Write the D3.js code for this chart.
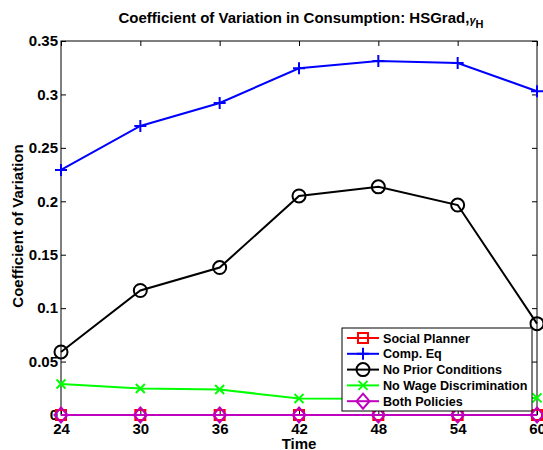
<!DOCTYPE html>
<html>
<head>
<meta charset="utf-8">
<script src="https://cdn.jsdelivr.net/npm/d3@7"></script>
<style>
  html, body { margin: 0; padding: 0; background: #fff; }
  text { font-family: "Liberation Sans", Arial, Helvetica, sans-serif; font-weight: bold; }
</style>
</head>
<body>
<svg id="chart" width="543" height="450"></svg>
<script>
// Age (months) at which consumption dispersion is measured
const times = [24, 30, 36, 42, 48, 54, 60];

// Coefficient of variation per scenario
const socialPlanner = [0, 0, 0, 0, 0, 0, 0];
const compEq = [0.2293, 0.2705, 0.2920, 0.3245, 0.3313, 0.3294, 0.3030];
const noPriorConditions = [0.0590, 0.1165, 0.1380, 0.2050, 0.2135, 0.1965, 0.0855];
const noWageDiscrimination = [0.0290, 0.0248, 0.0238, 0.0155, 0.0152, 0.0150, 0.0160];
const bothPolicies = [0, 0, 0, 0, 0, 0, 0];

const xTicks = [24, 30, 36, 42, 48, 54, 60];
const yTicks = [0, 0.05, 0.1, 0.15, 0.2, 0.25, 0.3, 0.35];
const yTickLabels = ["0", "0.05", "0.1", "0.15", "0.2", "0.25", "0.3", "0.35"];

const series = [
  { name: "Social Planner", values: socialPlanner, color: "#ff0000", marker: "square" },
  { name: "Comp. Eq", values: compEq, color: "#0000ff", marker: "plus" },
  { name: "No Prior Conditions", values: noPriorConditions, color: "#000000", marker: "circle" },
  { name: "No Wage Discrimination", values: noWageDiscrimination, color: "#00ff00", marker: "cross" },
  { name: "Both Policies", values: bothPolicies, color: "#bf00bf", marker: "diamond" }
];

const svg = d3.select("#chart");
const plotLeft = 61, plotRight = 537, plotTop = 41, plotBottom = 415;

const x = d3.scaleLinear().domain([24, 60]).range([plotLeft, plotRight]);
const y = d3.scaleLinear().domain([0, 0.35]).range([plotBottom, plotTop]);

// Plot frame
svg.append("rect")
  .attr("x", plotLeft).attr("y", plotTop)
  .attr("width", plotRight - plotLeft).attr("height", plotBottom - plotTop)
  .attr("fill", "#fff").attr("stroke", "#000").attr("stroke-width", 1);

// Axes with inward ticks (MATLAB style)
const xAxis = d3.axisBottom(x).tickValues(xTicks).tickSize(-5).tickPadding(8)
  .tickFormat(d3.format("d"));
const gx = svg.append("g").attr("transform", `translate(0,${plotBottom})`).call(xAxis);
gx.select(".domain").remove();
gx.selectAll("text").attr("font-size", 15).attr("fill", "#000")
  .style("font-family", "'Liberation Sans', Arial, sans-serif").style("font-weight", "bold");
gx.selectAll("line").attr("stroke", "#000");

const xAxisTop = d3.axisTop(x).tickValues(xTicks).tickSize(-5).tickFormat("");
const gxt = svg.append("g").attr("transform", `translate(0,${plotTop})`).call(xAxisTop);
gxt.select(".domain").remove();

const yAxis = d3.axisLeft(y).tickValues(yTicks).tickSize(-5).tickPadding(3)
  .tickFormat((d, i) => yTickLabels[i]);
const gy = svg.append("g").attr("transform", `translate(${plotLeft},0)`).call(yAxis);
gy.select(".domain").remove();
gy.selectAll("text").attr("font-size", 15).attr("fill", "#000")
  .style("font-family", "'Liberation Sans', Arial, sans-serif").style("font-weight", "bold");
gy.selectAll("line").attr("stroke", "#000");

const yAxisRight = d3.axisRight(y).tickValues(yTicks).tickSize(-5).tickFormat("");
const gyr = svg.append("g").attr("transform", `translate(${plotRight},0)`).call(yAxisRight);
gyr.select(".domain").remove();

// Marker shapes
function drawMarker(g, type, cx, cy, color) {
  if (type === "square") {
    g.append("rect").attr("x", cx - 5).attr("y", cy - 5).attr("width", 10).attr("height", 10)
      .attr("fill", "none").attr("stroke", color).attr("stroke-width", 2);
  } else if (type === "plus") {
    g.append("path").attr("d", `M${cx - 6},${cy}H${cx + 6}M${cx},${cy - 6}V${cy + 6}`)
      .attr("stroke", color).attr("stroke-width", 2).attr("fill", "none");
  } else if (type === "circle") {
    g.append("circle").attr("cx", cx).attr("cy", cy).attr("r", 6.5)
      .attr("fill", "none").attr("stroke", color).attr("stroke-width", 2);
  } else if (type === "cross") {
    g.append("path").attr("d", `M${cx - 4.5},${cy - 4.5}L${cx + 4.5},${cy + 4.5}M${cx - 4.5},${cy + 4.5}L${cx + 4.5},${cy - 4.5}`)
      .attr("stroke", color).attr("stroke-width", 2).attr("fill", "none");
  } else if (type === "diamond") {
    g.append("path").attr("d", `M${cx},${cy - 7.5}L${cx + 6.5},${cy}L${cx},${cy + 7.5}L${cx - 6.5},${cy}Z`)
      .attr("stroke", color).attr("stroke-width", 2).attr("fill", "none");
  }
}

const line = d3.line().x((d, i) => x(times[i])).y(d => y(d));

const plot = svg.append("g");
series.forEach(s => {
  const g = plot.append("g");
  g.append("path").datum(s.values).attr("d", line)
    .attr("fill", "none").attr("stroke", s.color).attr("stroke-width", 2);
  s.values.forEach((v, i) => drawMarker(g, s.marker, x(times[i]), y(v), s.color));
});

// Legend
const lg = svg.append("g");
lg.append("rect").attr("x", 342).attr("y", 328).attr("width", 190).attr("height", 83)
  .attr("fill", "#fff").attr("stroke", "#000").attr("stroke-width", 1);
series.forEach((s, i) => {
  const ly = 338 + i * 15.8;
  lg.append("line").attr("x1", 347).attr("x2", 379).attr("y1", ly).attr("y2", ly)
    .attr("stroke", s.color).attr("stroke-width", 2);
  drawMarker(lg, s.marker, 363, ly, s.color);
  lg.append("text").attr("x", 383).attr("y", ly).attr("dy", "0.36em")
    .attr("font-size", 12.6).attr("fill", "#000").text(s.name);
});

// Labels
const title = svg.append("text").attr("x", 301).attr("y", 23).attr("text-anchor", "middle")
  .attr("font-size", 15).attr("fill", "#000");
title.append("tspan").text("Coefficient of Variation in Consumption: HSGrad,");
title.append("tspan").attr("font-size", 11).attr("dy", 1).style("font-style", "italic").text("γ");
title.append("tspan").attr("font-size", 11).attr("dy", 4).text("H");

svg.append("text").attr("x", 299).attr("y", 449).attr("text-anchor", "middle")
  .attr("font-size", 15).attr("fill", "#000").text("Time");

svg.append("text").attr("transform", `translate(23,226) rotate(-90)`)
  .attr("text-anchor", "middle").attr("font-size", 15).attr("fill", "#000")
  .text("Coefficient of Variation");
</script>
</body>
</html>
